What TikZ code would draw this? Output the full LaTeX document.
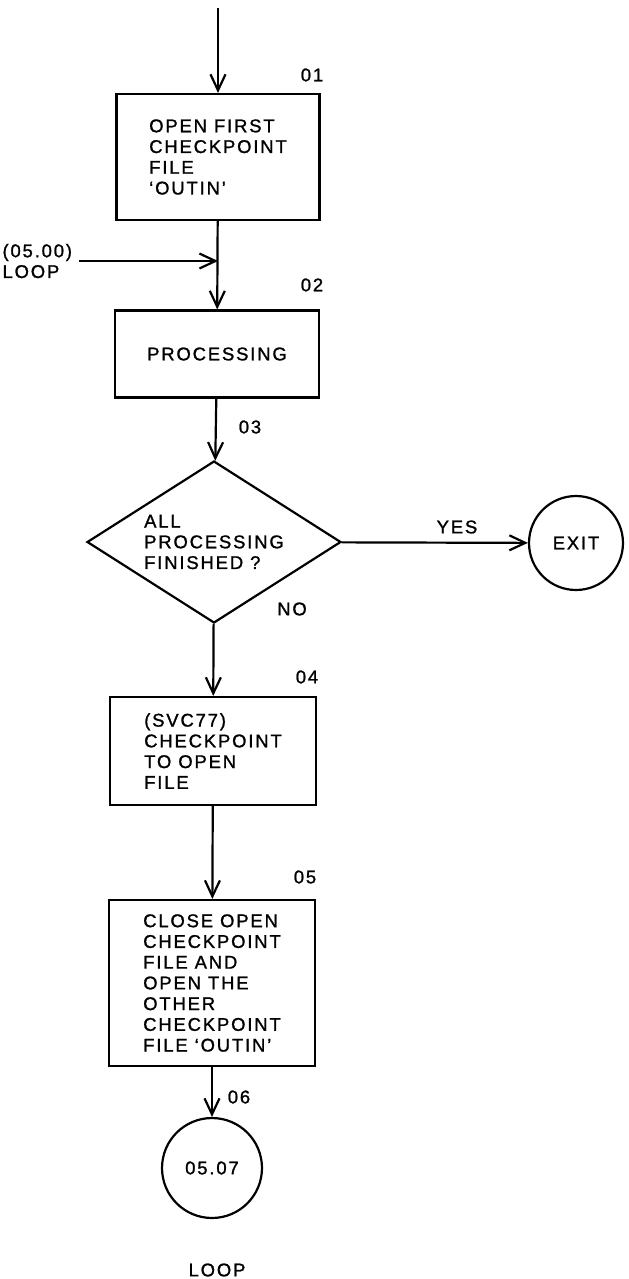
\documentclass[tikz,border=0pt]{standalone}
\usepackage{fontspec}
\setmainfont{Liberation Sans}[LetterSpace=10, FakeBold=1.2]
\usetikzlibrary{positioning, arrows.meta, shapes.geometric}

\begin{document}
\begin{tikzpicture}[x=0.02cm, y=-0.02cm,
  font=\fontsize{10.5}{11.8}\selectfont,
  line width=1.25pt,
  box/.style={draw, rectangle, align=left, inner sep=0pt},
  test/.style={draw, diamond, aspect=1.6, align=left, inner sep=1pt,
    minimum width=5.08cm, minimum height=3.24cm},
  term/.style={draw, circle, inner sep=0pt},
  flow/.style={-{Straight Barb[length=3.2mm, width=3mm]}}]
  \useasboundingbox (0,0) rectangle (629,1279);

  % boxes
  \node[box, minimum width=4.06cm, minimum height=2.52cm] (open) at (218,157)
    {OPEN FIRST\\CHECKPOINT\\FILE\\`OUTIN'};
  \node[box, minimum width=4.08cm, minimum height=1.74cm] (proc) at (217,354)
    {PROCESSING};
  \node[test] (done) at (214,542) {ALL\\PROCESSING\\FINISHED ?};
  \node[term, minimum size=1.88cm] (exit) at (576,543) {EXIT};
  \node[box, minimum width=4.12cm, minimum height=2.16cm] (ckpt) at (213,751)
    {(SVC77)\\CHECKPOINT\\TO OPEN\\FILE};
  \node[box, minimum width=4.12cm, minimum height=3.32cm] (swap) at (212,983)
    {CLOSE OPEN\\CHECKPOINT\\FILE AND\\OPEN THE\\OTHER\\CHECKPOINT\\FILE `OUTIN'};
  \node[term, minimum size=2cm] (cont) at (212,1168) {05.07};

  % entries
  \coordinate (start) at (218,8);
  \node[align=left, anchor=east] (loopin) at (79,261) {(05.00)\\LOOP};
  \coordinate (join) at (loopin.east -| open.south);

  % flow lines
  \draw[flow] (start) -- (open);
  \draw[flow] (open) -- (proc);
  \draw[flow] (loopin) -- (join);
  \draw[flow] (proc) -- (done);
  \draw[flow] (done) -- (exit);
  \draw[flow] (done) -- (ckpt);
  \draw[flow] (ckpt) -- (swap);
  \draw[flow] (swap) -- (cont);

  % labels
  \node (yes) at (457,527) {YES};
  \node (no) at (292,609) {NO};
  \node (loopout) at (217,1270) {LOOP};
  \foreach \s/\px/\py in {01/312/75, 02/312/285, 03/250/427, 04/307/677, 05/305/877, 06/239/1097}
    \node (s\s) at (\px,\py) {\s};
\end{tikzpicture}
\end{document}
